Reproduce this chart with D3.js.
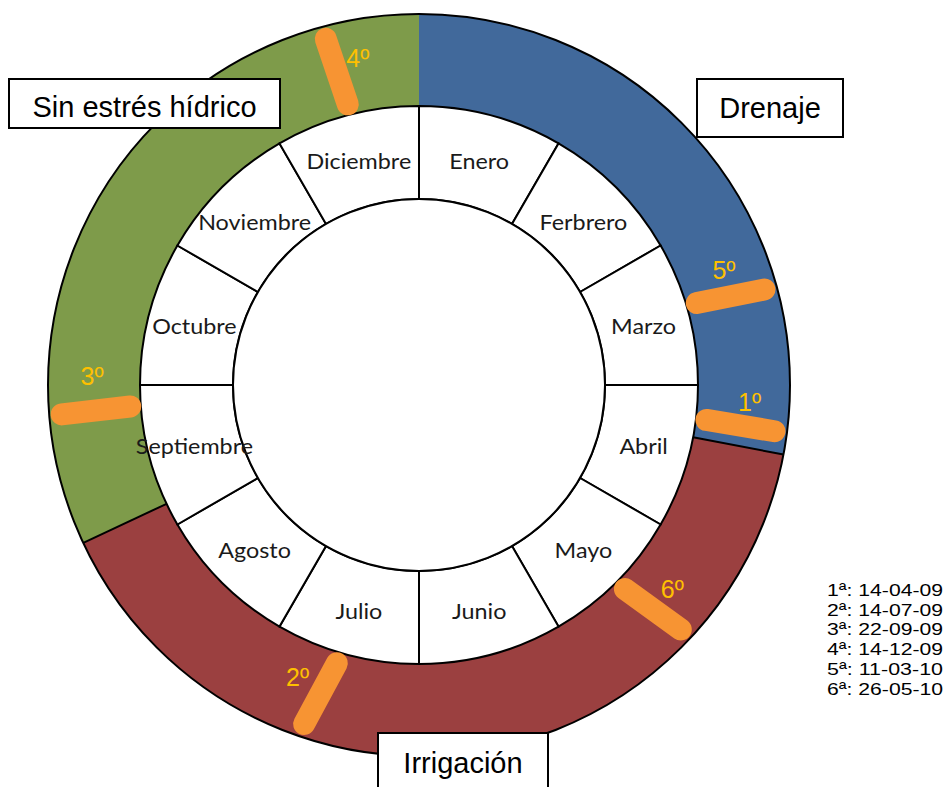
<!DOCTYPE html>
<html><head><meta charset="utf-8">
<script src="https://cdn.jsdelivr.net/npm/d3@7"></script>
<style>body{margin:0;background:#fff}</style>
</head><body><svg id="c" width="948" height="787"></svg>
<script>
// ---- data ----
const months = ["Enero","Ferbrero","Marzo","Abril","Mayo","Junio","Julio","Agosto","Septiembre","Octubre","Noviembre","Diciembre"];
const phaseNames = ["Drenaje","Irrigación","Sin estrés hídrico"];
const phaseStart = [0, 3.36, 8.16];   // in months from 1 January
const phaseEnd = [3.36, 8.16, 12];
const markerLabels = ["1º","2º","3º","4º","5º","6º"];
const markerPos = [3.24, 6.59, 8.85, 11.51, 2.47, 4.46]; // in months
const legendLabels = ["1ª: 14-04-09","2ª: 14-07-09","3ª: 22-09-09","4ª: 14-12-09","5ª: 11-03-10","6ª: 26-05-10"];

// ---- styles / layout ----
const phaseColors = ["#41699b","#9b4040","#7e9b4a"];
const markerTilt = [2.2, 10.6, -2.1, -3.9, 4.6, -7.9];
const labelOffset = [-4.3, 4.9, 6, 4.1, -4.8, -5];
const labelRadius = [331, 316, 327, 333, 326, 325];
const boxes = [
  {name:"Drenaje", x:697, y:79, w:146, h:58, ty:118},
  {name:"Irrigación", x:378, y:733, w:170, h:60, ty:773},
  {name:"Sin estrés hídrico", x:9, y:79, w:271, h:49, ty:116.5}
];

const cx = 419, cy = 385, R = 371, Rm = 279, Ri = 186;
const svg = d3.select("#c");
const g = svg.append("g").attr("transform", `translate(${cx},${cy})`);
const ang = d3.scaleLinear().domain([0, 12]).range([0, 2 * Math.PI]);
const pt = (a, r) => [r * Math.sin(a), -r * Math.cos(a)];

// outer phase ring
const arcOuter = d3.arc().innerRadius(Rm).outerRadius(R);
g.selectAll("path.phase").data(phaseNames).join("path")
  .attr("class","phase")
  .attr("d", (d,i) => arcOuter({startAngle: ang(phaseStart[i]), endAngle: ang(phaseEnd[i])}))
  .attr("fill", (d,i) => phaseColors[i]);

// boundary lines between phases (except at top)
g.selectAll("line.bound").data(phaseStart.filter(v => v > 0)).join("line")
  .attr("class","bound")
  .attr("x1", d => pt(ang(d), Rm)[0]).attr("y1", d => pt(ang(d), Rm)[1])
  .attr("x2", d => pt(ang(d), R)[0]).attr("y2", d => pt(ang(d), R)[1])
  .attr("stroke","#000").attr("stroke-width",2);

g.append("circle").attr("r", R).attr("fill","none").attr("stroke","#000").attr("stroke-width",2);

// month ring
const arcM = d3.arc().innerRadius(Ri).outerRadius(Rm);
g.selectAll("path.month").data(months).join("path")
  .attr("class","month")
  .attr("d", (d,i) => arcM({startAngle: ang(i), endAngle: ang(i+1)}))
  .attr("fill","#fff").attr("stroke","#000").attr("stroke-width",2);
g.append("circle").attr("r", Ri).attr("fill","#fff").attr("stroke","#000").attr("stroke-width",2);

const mt = g.selectAll("text.month").data(months).join("text")
  .attr("class","month")
  .attr("text-anchor","middle")
  .attr("font-family","Lato, 'Open Sans', sans-serif")
  .attr("font-size", 21)
  .attr("fill","#1a1a1a")
  .text(d => d);
// measure to mimic the reference's wider rendering
let sx = 1;
mt.each(function(d){ if (d === "Noviembre") sx = 113 / this.getComputedTextLength(); });
mt.attr("transform", (d,i) => {
  const c = arcM.centroid({startAngle: ang(i), endAngle: ang(i+1)});
  return `translate(${c[0]},${c[1] + 9}) scale(${sx},1)`;
});

// markers
const mg = g.selectAll("g.marker").data(markerPos).join("g").attr("class","marker");
mg.append("line")
  .each(function(d,i){
    const a = ang(d), mid = pt(a, 324), t = a + markerTilt[i] * Math.PI / 180;
    const dx = 34.5 * Math.sin(t), dy = -34.5 * Math.cos(t);
    d3.select(this).attr("x1", mid[0] - dx).attr("y1", mid[1] - dy)
      .attr("x2", mid[0] + dx).attr("y2", mid[1] + dy);
  })
  .attr("stroke","#f79433").attr("stroke-width",22).attr("stroke-linecap","round");
mg.append("text")
  .attr("x", (d,i) => pt(ang(d) + labelOffset[i] * Math.PI / 180, labelRadius[i])[0])
  .attr("y", (d,i) => pt(ang(d) + labelOffset[i] * Math.PI / 180, labelRadius[i])[1] + 9)
  .attr("text-anchor","middle")
  .attr("font-family","'Liberation Sans', Arial, sans-serif")
  .attr("font-size", 25)
  .attr("fill","#ffc000")
  .text((d,i) => markerLabels[i]);

// boxes
const bg = svg.selectAll("g.box").data(boxes).join("g").attr("class","box");
bg.append("rect").attr("x", d => d.x).attr("y", d => d.y).attr("width", d => d.w).attr("height", d => d.h)
  .attr("fill","#fff").attr("stroke","#000").attr("stroke-width",2);
bg.append("text").attr("x", d => d.x + d.w / 2).attr("y", d => d.ty)
  .attr("text-anchor","middle")
  .attr("font-family","'Liberation Sans', Arial, sans-serif")
  .attr("font-size", 29).attr("fill","#000")
  .text(d => d.name);

// legend
svg.selectAll("text.leg").data(legendLabels).join("text")
  .attr("class","leg")
  .attr("x", 827).attr("y", (d,i) => 596 + i * 19.7)
  .attr("font-family","'Liberation Sans', Arial, sans-serif")
  .attr("font-size", 17).attr("fill","#000")
  .attr("textLength", 116).attr("lengthAdjust","spacingAndGlyphs")
  .text(d => d);
</script></body></html>
